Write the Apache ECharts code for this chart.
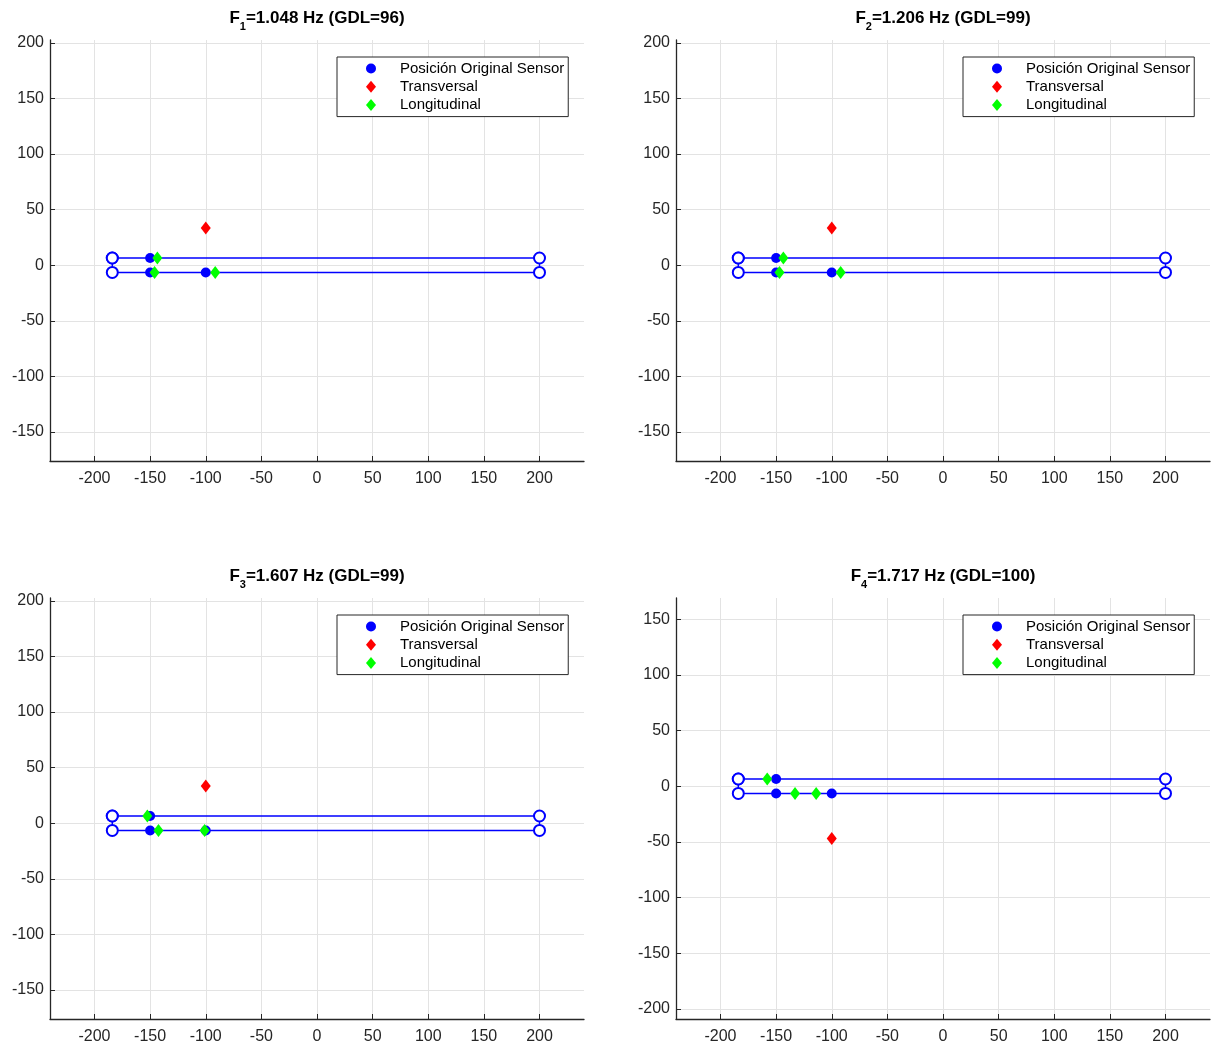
<!DOCTYPE html>
<html>
<head>
<meta charset="utf-8">
<script src="https://cdn.jsdelivr.net/npm/echarts@6/dist/echarts.min.js"></script>
<style>
html,body{margin:0;padding:0;background:#fff;}
#chart{width:1211px;height:1048px;}
</style>
</head>
<body>
<div id="chart"></div>
<script>
// ---- data ----
const titleSub = ['1', '2', '3', '4'];
const titleMain = ['=1.048 Hz (GDL=96)', '=1.206 Hz (GDL=99)', '=1.607 Hz (GDL=99)', '=1.717 Hz (GDL=100)'];
const seriesNames = ['Posición Original Sensor', 'Transversal', 'Longitudinal'];

// structure outline (same in every panel)
const structX = [-184, 200, 200, -184, -184];
const structY = [6.5, 6.5, -6.5, -6.5, 6.5];

// original sensor positions
const sensorX = [-150, -150, -100];
const sensorY = [6.5, -6.5, -6.5];

// transversal (red) per panel
const transX = [[-100], [-100], [-100], [-100]];
const transY = [[33.5], [33.5], [33.5], [-47]];

// longitudinal (green) per panel
const longX = [
  [-143.5, -146, -91.5],
  [-143.5, -147, -92],
  [-152.5, -142.5, -101],
  [-158, -133, -114]
];
const longY = [
  [6.5, -6.5, -6.5],
  [6.5, -6.5, -6.5],
  [6.5, -6.5, -6.5],
  [6.5, -6.5, -6.5]
];

// axis ranges
const xMin = -240, xMax = 240;
const yMin = [-176, -176, -176, -209];
const yMax = [202.5, 202.5, 202.5, 169];

// ---- layout ----
const FONT = "'Liberation Sans', Arial, sans-serif";
const grids = [
  {left: 50, top: 40, width: 534, height: 421},
  {left: 676, top: 40, width: 534, height: 421},
  {left: 50, top: 598, width: 534, height: 421},
  {left: 676, top: 598, width: 534, height: 421}
];
const legendPos = [
  {left: 337, top: 57},
  {left: 963, top: 57},
  {left: 337, top: 615},
  {left: 963, top: 615}
];
const titleY = [18, 18, 576, 576];

const zip = (a, b) => a.map((v, i) => [v, b[i]]);
const AX = '#262626';

const option = {
  backgroundColor: '#fff',
  animation: false,
  grid: grids.map(g => Object.assign({containLabel: false}, g)),
  xAxis: grids.map((g, i) => ({
    type: 'value', gridIndex: i, min: xMin, max: xMax,
    splitNumber: 10, minInterval: 50, maxInterval: 50,
    axisLine: {show: true, onZero: false, lineStyle: {color: AX, width: 1.3}},
    axisTick: {show: true, inside: true, length: 5, lineStyle: {color: AX, width: 1}},
    axisLabel: {show: true, color: AX, fontSize: 16, fontFamily: FONT, margin: 10, showMinLabel: false, showMaxLabel: false},
    splitLine: {show: true, showMinLine: false, showMaxLine: false, lineStyle: {color: '#e3e3e3', width: 1}}
  })),
  yAxis: grids.map((g, i) => ({
    type: 'value', gridIndex: i, min: yMin[i], max: yMax[i],
    splitNumber: 8, minInterval: 50, maxInterval: 50,
    axisLine: {show: true, onZero: false, lineStyle: {color: AX, width: 1.3}},
    axisTick: {show: true, inside: true, length: 5, lineStyle: {color: AX, width: 1}},
    axisLabel: {show: true, color: AX, fontSize: 16, fontFamily: FONT, margin: 6, showMinLabel: false, showMaxLabel: false},
    splitLine: {show: true, showMinLine: false, showMaxLine: false, lineStyle: {color: '#e3e3e3', width: 1}}
  })),
  legend: legendPos.map(p => ({
    left: p.left, top: p.top, orient: 'vertical',
    data: [
      {name: seriesNames[0], icon: 'circle', itemStyle: {opacity: 1}},
      {name: seriesNames[1], icon: 'diamond', itemStyle: {opacity: 1}},
      {name: seriesNames[2], icon: 'diamond', itemStyle: {opacity: 1}}
    ],
    itemWidth: 10, itemHeight: 12, itemGap: 3.3,
    padding: [4, 4, 4, 29],
    backgroundColor: '#fff', borderColor: AX, borderWidth: 1, borderRadius: 0,
    selectedMode: false,
    textStyle: {fontSize: 15, lineHeight: 15, color: '#000', fontFamily: FONT, padding: [0, 0, 0, 19]}
  })),
  graphic: grids.map((g, i) => ({
    type: 'text',
    x: g.left + g.width / 2, y: titleY[i],
    style: {
      text: '{a|F}{s|' + titleSub[i] + '}{a|' + titleMain[i] + '}',
      align: 'center', verticalAlign: 'middle',
      rich: {
        a: {fontSize: 17, fontWeight: 'bold', fontFamily: FONT, fill: '#000', lineHeight: 28, verticalAlign: 'middle'},
        s: {fontSize: 11, fontWeight: 'bold', fontFamily: FONT, fill: '#000', lineHeight: 12, verticalAlign: 'bottom'}
      }
    }
  })),
  series: []
};

grids.forEach((g, i) => {
  option.series.push({
    type: 'line', xAxisIndex: i, yAxisIndex: i, name: 'estructura',
    data: zip(structX, structY),
    symbol: 'emptyCircle', symbolSize: 11, showSymbol: true,
    itemStyle: {color: '#0000ff', borderWidth: 1, opacity: 1},
    lineStyle: {color: '#0000ff', width: 1.4, opacity: 1},
    z: 2, silent: true
  });
  option.series.push({
    type: 'scatter', xAxisIndex: i, yAxisIndex: i, name: seriesNames[0],
    data: zip(sensorX, sensorY), symbol: 'circle', symbolSize: 10,
    itemStyle: {color: '#0000ff', opacity: 1}, z: 3
  });
  option.series.push({
    type: 'scatter', xAxisIndex: i, yAxisIndex: i, name: seriesNames[1],
    data: zip(transX[i], transY[i]), symbol: 'diamond', symbolSize: [10, 13],
    itemStyle: {color: '#ff0000', opacity: 1}, z: 4
  });
  option.series.push({
    type: 'scatter', xAxisIndex: i, yAxisIndex: i, name: seriesNames[2],
    data: zip(longX[i], longY[i]), symbol: 'diamond', symbolSize: [10, 13],
    itemStyle: {color: '#00ff00', opacity: 1}, z: 5
  });
});

const chart = echarts.init(document.getElementById('chart'), null, {renderer: 'canvas'});
chart.setOption(option);
</script>
</body>
</html>
